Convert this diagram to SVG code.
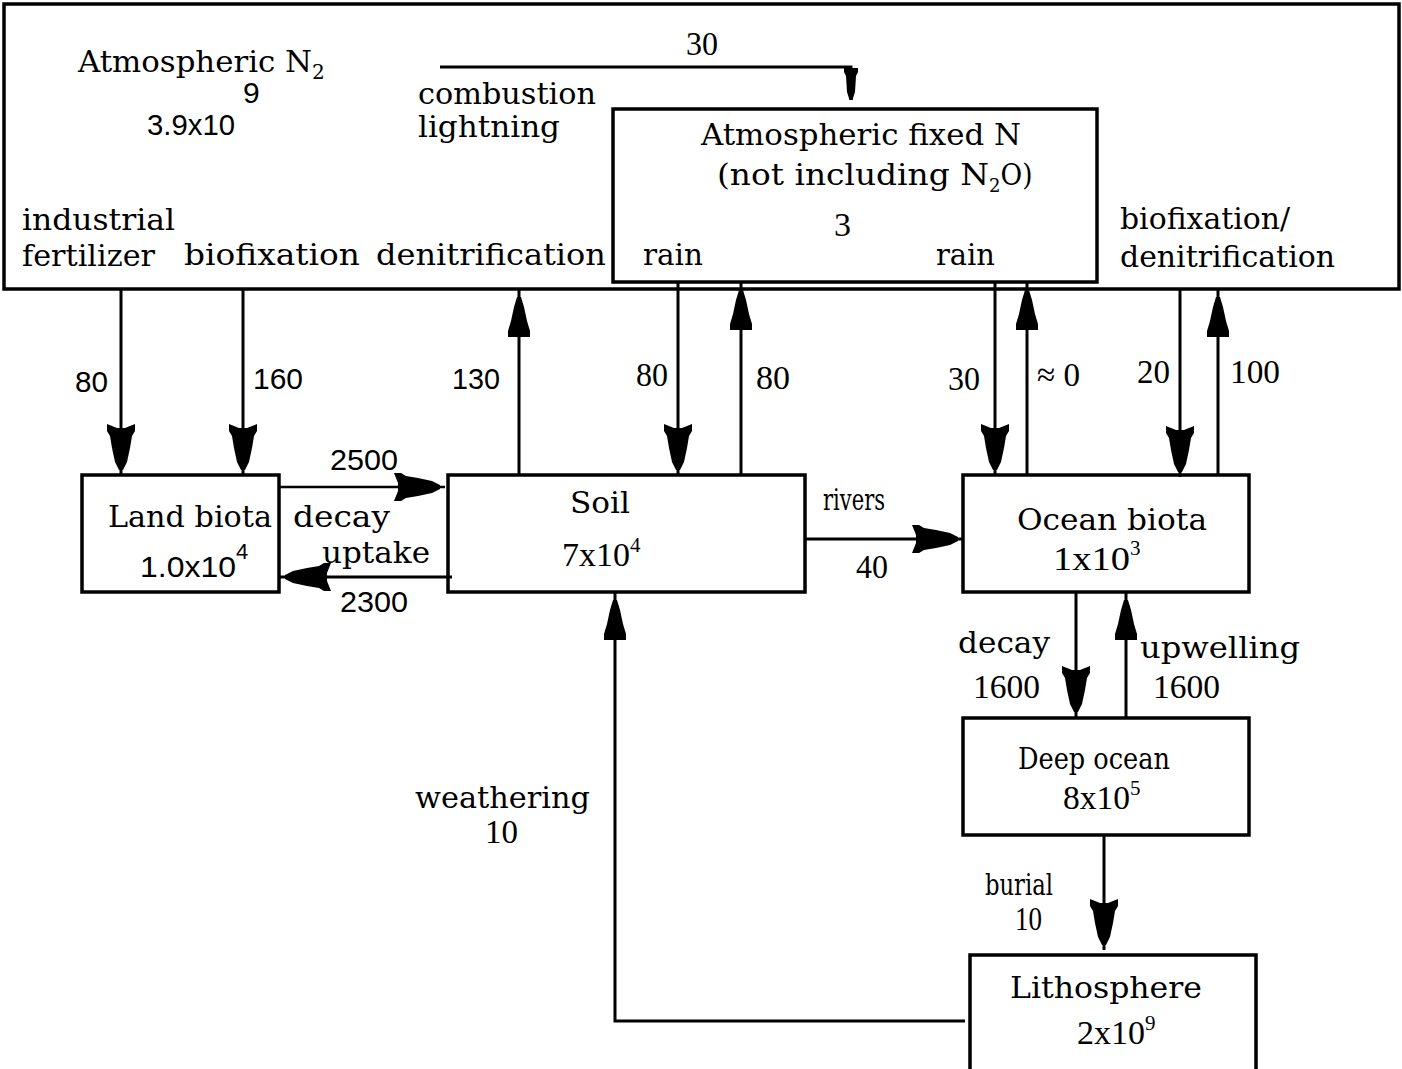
<svg xmlns="http://www.w3.org/2000/svg" width="1402" height="1069" viewBox="0 0 1402 1069">
  <style>
    .box { fill: none; stroke: #000; stroke-width: 3.5; }
    .conn { fill: none; stroke: #000; stroke-width: 3; }
    .thin { stroke-width: 2.5; }
    .w { font-family: "DejaVu Serif", serif; font-size: 30px; fill: #000; }
    .n { font-family: "Liberation Sans", sans-serif; font-size: 30px; fill: #000; }
    .s { font-family: "Liberation Serif", serif; font-size: 34px; fill: #000; }
  </style>
  <defs>
    <!-- dart head with swept-back ears; tip sits 5px before the path end -->
    <marker id="dart" markerUnits="userSpaceOnUse" viewBox="-48 -16 56 32" markerWidth="56" markerHeight="32" refX="5" refY="0" orient="auto">
      <path d="M0,-2 L-8,-6 L-22,-9 L-34,-11 L-39,-14 L-46,-14 L-42,-4 L-42,4 L-46,14 L-39,14 L-34,11 L-22,9 L-8,6 L0,2 Z" fill="#000"/>
    </marker>
    <!-- flat-backed head; tip sits 8px before the path end -->
    <marker id="bolt" markerUnits="userSpaceOnUse" viewBox="-48 -16 56 32" markerWidth="56" markerHeight="32" refX="8" refY="0" orient="auto">
      <path d="M0,-2 L-10,-5 L-24,-8 L-34,-11 L-40,-11 L-40,11 L-34,11 L-24,8 L-10,5 L0,2 Z" fill="#000"/>
    </marker>
    <!-- small head for the combustion/lightning feed -->
    <marker id="small" markerUnits="userSpaceOnUse" viewBox="-36 -10 40 20" markerWidth="40" markerHeight="20" refX="0" refY="0" orient="auto">
      <path d="M0,-1.5 L-8,-4 L-24,-5 L-28,-7 L-32,-7 L-32,7 L-28,7 L-24,5 L-8,4 L0,1.5 Z" fill="#000"/>
    </marker>
  </defs>

  <rect width="1402" height="1069" fill="#fff"/>

  <!-- reservoirs -->
  <g id="atmospheric-n2">
    <rect class="box" x="4" y="4" width="1395" height="285"/>
    <text class="w" x="78" y="72"><tspan textLength="234" lengthAdjust="spacingAndGlyphs">Atmospheric N</tspan><tspan dy="7" font-size="20">2</tspan></text>
    <text class="n" x="243" y="103" font-size="24">9</text>
    <text class="n" x="147" y="135" font-size="25" textLength="88" lengthAdjust="spacingAndGlyphs">3.9x10</text>
  </g>

  <g id="atmospheric-fixed-n">
    <rect class="box" x="613" y="109" width="484" height="173"/>
    <text class="w" x="701" y="145" textLength="320" lengthAdjust="spacingAndGlyphs">Atmospheric fixed N</text>
    <text class="w" x="717" y="185"><tspan textLength="272" lengthAdjust="spacingAndGlyphs">(not including N</tspan><tspan dy="7" font-size="18">2</tspan><tspan dy="-7" textLength="32" lengthAdjust="spacingAndGlyphs">O)</tspan></text>
    <text class="s" x="834" y="236" font-size="28">3</text>
  </g>

  <g id="land-biota">
    <rect class="box" x="82" y="475" width="197" height="117"/>
    <text class="w" x="108" y="527" textLength="164" lengthAdjust="spacingAndGlyphs">Land biota</text>
    <text class="n" x="140" y="577"><tspan textLength="96" lengthAdjust="spacingAndGlyphs">1.0x10</tspan><tspan dy="-18" font-size="22">4</tspan></text>
  </g>

  <g id="soil">
    <rect class="box" x="448" y="475" width="357" height="117"/>
    <text class="w" x="570" y="513" textLength="60" lengthAdjust="spacingAndGlyphs">Soil</text>
    <text class="s" x="562" y="566" font-size="29">7x10<tspan dy="-14" font-size="21">4</tspan></text>
  </g>

  <g id="ocean-biota">
    <rect class="box" x="963" y="475" width="286" height="117"/>
    <text class="w" x="1017" y="530" textLength="190" lengthAdjust="spacingAndGlyphs">Ocean biota</text>
    <text class="s" x="1053" y="570"><tspan textLength="77" lengthAdjust="spacingAndGlyphs">1x10</tspan><tspan dy="-15" font-size="21">3</tspan></text>
  </g>

  <g id="deep-ocean">
    <rect class="box" x="963" y="718" width="286" height="117"/>
    <text class="w" x="1018" y="769" textLength="152" lengthAdjust="spacingAndGlyphs">Deep ocean</text>
    <text class="s" x="1063" y="809"><tspan textLength="67" lengthAdjust="spacingAndGlyphs">8x10</tspan><tspan dy="-14" font-size="21">5</tspan></text>
  </g>

  <g id="lithosphere">
    <path class="box" d="M970,1069 V955 H1256 V1069"/>
    <text class="w" x="1010" y="998" textLength="192" lengthAdjust="spacingAndGlyphs">Lithosphere</text>
    <text class="s" x="1077" y="1044" font-size="31.5">2x10<tspan dy="-14" font-size="21">9</tspan></text>
  </g>

  <!-- fluxes -->
  <g id="connectors">
    <!-- combustion / lightning into atmospheric fixed N -->
    <path class="conn" d="M440,67 H851 V100" marker-end="url(#small)"/>
    <text class="s" x="686" y="55" textLength="32" lengthAdjust="spacingAndGlyphs">30</text>
    <text class="w" x="418" y="104" textLength="178" lengthAdjust="spacingAndGlyphs">combustion</text>
    <text class="w" x="418" y="137" textLength="142" lengthAdjust="spacingAndGlyphs">lightning</text>

    <!-- atmosphere to land biota -->
    <path class="conn" d="M121,289 V475" marker-end="url(#dart)"/>
    <path class="conn" d="M243,289 V475" marker-end="url(#dart)"/>
    <text class="w" x="22" y="230" textLength="153" lengthAdjust="spacingAndGlyphs">industrial</text>
    <text class="w" x="22" y="266" textLength="133" lengthAdjust="spacingAndGlyphs">fertilizer</text>
    <text class="w" x="184" y="265" textLength="176" lengthAdjust="spacingAndGlyphs">biofixation</text>
    <text class="n" x="75" y="392" textLength="33" lengthAdjust="spacingAndGlyphs">80</text>
    <text class="n" x="253" y="389" textLength="50" lengthAdjust="spacingAndGlyphs">160</text>

    <!-- soil denitrification -->
    <path class="conn" d="M519,475 V289" marker-end="url(#bolt)"/>
    <text class="w" x="376" y="265" textLength="230" lengthAdjust="spacingAndGlyphs">denitrification</text>
    <text class="n" x="452" y="389" textLength="48" lengthAdjust="spacingAndGlyphs">130</text>

    <!-- rain and return between fixed N and soil -->
    <path class="conn" d="M678,282 V475" marker-end="url(#dart)"/>
    <path class="conn" d="M741,475 V282" marker-end="url(#bolt)"/>
    <text class="w" x="643" y="265" textLength="60" lengthAdjust="spacingAndGlyphs">rain</text>
    <text class="s" x="636" y="386" textLength="32" lengthAdjust="spacingAndGlyphs">80</text>
    <text class="s" x="756" y="389" textLength="34" lengthAdjust="spacingAndGlyphs">80</text>

    <!-- rain and return between fixed N and ocean biota -->
    <path class="conn" d="M995,282 V475" marker-end="url(#dart)"/>
    <path class="conn" d="M1027,475 V282" marker-end="url(#bolt)"/>
    <text class="w" x="936" y="265" textLength="59" lengthAdjust="spacingAndGlyphs">rain</text>
    <text class="s" x="948" y="390" textLength="32" lengthAdjust="spacingAndGlyphs">30</text>
    <text class="s" x="1037" y="386" textLength="43" lengthAdjust="spacingAndGlyphs">≈ 0</text>

    <!-- ocean biofixation / denitrification -->
    <path class="conn" d="M1180,289 V477" marker-end="url(#dart)"/>
    <path class="conn" d="M1218,475 V289" marker-end="url(#bolt)"/>
    <text class="w" x="1120" y="229" textLength="170" lengthAdjust="spacingAndGlyphs">biofixation/</text>
    <text class="w" x="1120" y="267" textLength="215" lengthAdjust="spacingAndGlyphs">denitrification</text>
    <text class="s" x="1137" y="383" textLength="33" lengthAdjust="spacingAndGlyphs">20</text>
    <text class="s" x="1230" y="383" textLength="50" lengthAdjust="spacingAndGlyphs">100</text>

    <!-- land biota / soil exchange -->
    <path class="conn thin" d="M279,487 H445" marker-end="url(#dart)"/>
    <path class="conn" d="M452,577 H280" marker-end="url(#dart)"/>
    <text class="n" x="330" y="470" textLength="68" lengthAdjust="spacingAndGlyphs">2500</text>
    <text class="w" x="293" y="527" textLength="97" lengthAdjust="spacingAndGlyphs">decay</text>
    <text class="w" x="322" y="563" textLength="108" lengthAdjust="spacingAndGlyphs">uptake</text>
    <text class="n" x="340" y="612" textLength="68" lengthAdjust="spacingAndGlyphs">2300</text>

    <!-- rivers -->
    <path class="conn" d="M805,539 H963" marker-end="url(#dart)"/>
    <text class="w" x="823" y="510" textLength="62" lengthAdjust="spacingAndGlyphs">rivers</text>
    <text class="s" x="856" y="578" textLength="32" lengthAdjust="spacingAndGlyphs">40</text>

    <!-- ocean biota / deep ocean exchange -->
    <path class="conn" d="M1076,592 V717" marker-end="url(#dart)"/>
    <path class="conn" d="M1126,718 V592" marker-end="url(#bolt)"/>
    <text class="w" x="958" y="653" textLength="92" lengthAdjust="spacingAndGlyphs">decay</text>
    <text class="s" x="973" y="698" textLength="67" lengthAdjust="spacingAndGlyphs">1600</text>
    <text class="w" x="1140" y="658" textLength="160" lengthAdjust="spacingAndGlyphs">upwelling</text>
    <text class="s" x="1153" y="698" textLength="67" lengthAdjust="spacingAndGlyphs">1600</text>

    <!-- burial -->
    <path class="conn" d="M1104,835 V950" marker-end="url(#dart)"/>
    <text class="w" x="985" y="895" textLength="68" lengthAdjust="spacingAndGlyphs">burial</text>
    <text class="s" x="1015" y="930" textLength="27" lengthAdjust="spacingAndGlyphs">10</text>

    <!-- weathering back to soil -->
    <path class="conn" d="M965,1021 H615 V592" marker-end="url(#bolt)"/>
    <text class="w" x="415" y="808" textLength="175" lengthAdjust="spacingAndGlyphs">weathering</text>
    <text class="s" x="485" y="843" textLength="33" lengthAdjust="spacingAndGlyphs">10</text>
  </g>
</svg>
